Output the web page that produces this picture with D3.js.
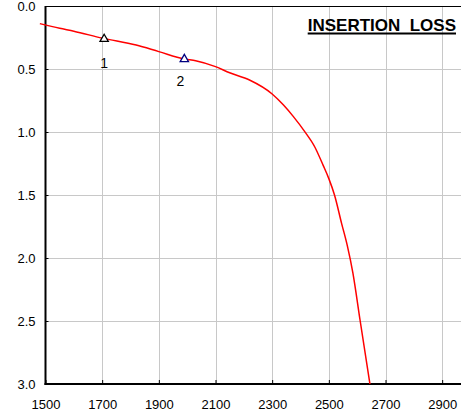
<!DOCTYPE html>
<html><head><meta charset="utf-8">
<script src="https://cdn.jsdelivr.net/npm/d3@7"></script>
<style>body{margin:0;background:#fff}svg{display:block}</style>
</head><body>
<script>
const freq = [1480,1550,1600,1700,1820,1900,1990,2030,2100,2150,2220,2300,2340,2375,2415,2450,2480,2500,2520,2545,2565,2585,2610,2645];
const loss = [0.14,0.177,0.20,0.255,0.31,0.362,0.42,0.434,0.481,0.53,0.587,0.698,0.786,0.878,0.997,1.117,1.265,1.37,1.50,1.725,1.90,2.12,2.49,3.0];
const markerFreq = [1707,1990];
const markerLoss = [0.262,0.422];
const markerLabels = ["1","2"];
const markerColors = ["#000000","#000080"];
const xTicks = [1500,1700,1900,2100,2300,2500,2700,2900];
const yTicks = [0.0,0.5,1.0,1.5,2.0,2.5,3.0];
const title = "INSERTION\u00a0\u00a0LOSS";

const W=461,H=413;
const svg=d3.select("body").append("svg").attr("width",W).attr("height",H);
const x=d3.scaleLinear().domain([1500,3000]).range([45.5,470.5]);
const y=d3.scaleLinear().domain([0,3]).range([6,384]);

// grid
svg.append("g").selectAll("line").data(xTicks.filter(t=>t>1500)).join("line")
  .attr("x1",d=>Math.round(x(d))+0.5).attr("x2",d=>Math.round(x(d))+0.5)
  .attr("y1",y(0)).attr("y2",y(3)).attr("stroke","#c8c8c8").attr("stroke-width",1);
svg.append("g").selectAll("line").data(yTicks.filter(t=>t>0&&t<3)).join("line")
  .attr("x1",x(1500)).attr("x2",W).attr("y1",d=>Math.round(y(d))+0.5).attr("y2",d=>Math.round(y(d))+0.5)
  .attr("stroke","#c8c8c8").attr("stroke-width",1);

// top border
svg.append("line").attr("x1",x(1500)).attr("x2",W).attr("y1",6.5).attr("y2",6.5).attr("stroke","#000").attr("stroke-width",1);

// axes
const yAxis=d3.axisRight(y).tickValues(yTicks).tickSize(3).tickFormat(d3.format(".1f"));
const gy=svg.append("g").attr("transform",`translate(${x(1500)},0)`).call(yAxis);
gy.select(".domain").attr("stroke-width",2).attr("d",`M0,${y(0)}V${y(3)+1}`);
gy.selectAll(".tick line").attr("stroke","#000");
gy.selectAll(".tick text").attr("x",-10).attr("text-anchor","end").attr("dy","0.35em")
  .attr("font-family","Liberation Sans, Arial, sans-serif").attr("font-size",13).attr("fill","#000");

const xAxis=d3.axisTop(x).tickValues(xTicks).tickSize(4).tickFormat(d3.format("d"));
const gx=svg.append("g").attr("transform",`translate(0,${y(3)})`).call(xAxis);
gx.select(".domain").attr("stroke-width",2).attr("d",`M${x(1500)-1},0H${W}`);
gx.selectAll(".tick line").attr("stroke","#000");
gx.selectAll(".tick text").attr("y",25).attr("dy",0)
  .attr("font-family","Liberation Sans, Arial, sans-serif").attr("font-size",13).attr("fill","#000");

// curve
const data=freq.map((f,i)=>[f,loss[i]]);
svg.append("path").datum(data)
  .attr("d",d3.line().x(d=>x(d[0])).y(d=>y(d[1])).curve(d3.curveMonotoneX))
  .attr("fill","none").attr("stroke","#ff0000").attr("stroke-width",1.5);

// markers
const sym=d3.symbol().type(d3.symbolTriangle).size(30);
markerFreq.forEach((f,i)=>{
  svg.append("path").attr("d",sym()).attr("transform",`translate(${x(f)},${y(markerLoss[i])})`)
    .attr("fill","#fff").attr("stroke",markerColors[i]).attr("stroke-width",1.3);
});
const labelDy=[29,27];
const labelDx=[0,-4];
markerFreq.forEach((f,i)=>{
  svg.append("text").attr("x",x(f)+labelDx[i]).attr("y",y(markerLoss[i])+labelDy[i])
    .attr("text-anchor","middle").attr("font-family","Liberation Sans, Arial, sans-serif")
    .attr("font-size",14).attr("fill","#000").text(markerLabels[i]);
});

// title
const t=svg.append("text").attr("x",456).attr("y",31).attr("text-anchor","end")
  .attr("font-family","Liberation Sans, Arial, sans-serif").attr("font-weight","bold")
  .attr("font-size",17).attr("fill","#000").text(title);
const bb=t.node().getBBox();
svg.append("rect").attr("x",bb.x).attr("y",32.5).attr("width",bb.width).attr("height",2).attr("fill","#000");
</script>
</body></html>
